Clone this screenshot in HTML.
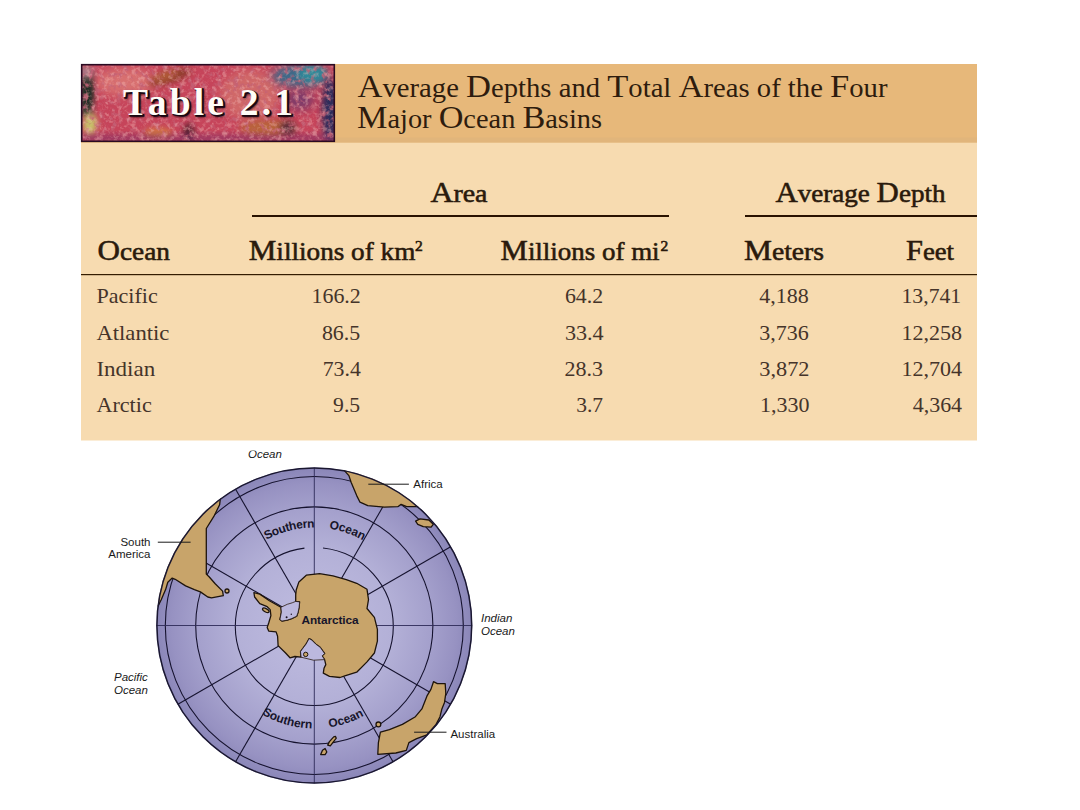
<!DOCTYPE html>
<html><head><meta charset="utf-8">
<style>
html,body{margin:0;padding:0;background:#fff;width:1080px;height:810px;overflow:hidden}
svg{display:block}
.sf{font-family:"Liberation Serif",serif}
.ss{font-family:"Liberation Sans",sans-serif}
</style></head><body>
<svg width="1080" height="810" viewBox="0 0 1080 810">
<defs>
<radialGradient id="coralA" cx="0.5" cy="0.5" r="0.7">
<stop offset="0" stop-color="#c85a6e"/><stop offset="1" stop-color="#a83f5c"/>
</radialGradient>
</defs>
<!-- table body -->
<rect x="81" y="142" width="896" height="298.5" fill="#f7dbb0"/>
<!-- header bar -->
<rect x="81" y="64" width="896" height="78.6" fill="#e7b87a"/>
<rect x="81" y="137.6" width="896" height="5" fill="#dcb27c" opacity="0.55"/>
<!-- coral image -->
<g id="coral">
<defs>
<clipPath id="cclip"><rect x="81" y="64" width="254" height="78"/></clipPath>
<filter id="blur3" x="-50%" y="-50%" width="200%" height="200%"><feGaussianBlur stdDeviation="3"/></filter>
<filter id="blur5" x="-50%" y="-50%" width="200%" height="200%"><feGaussianBlur stdDeviation="5"/></filter>
<filter id="speck" x="0" y="0" width="100%" height="100%">
<feTurbulence type="fractalNoise" baseFrequency="0.22" numOctaves="3" seed="7" result="n"/>
<feColorMatrix in="n" type="matrix" values="0 0 0 0 0.92  0 0 0 0 0.52  0 0 0 0 0.5  4 0 0 0 -1.95" />
</filter>
<filter id="speckD" x="0" y="0" width="100%" height="100%">
<feTurbulence type="fractalNoise" baseFrequency="0.18" numOctaves="3" seed="3" result="n"/>
<feColorMatrix in="n" type="matrix" values="0 0 0 0 0.55  0 0 0 0 0.12  0 0 0 0 0.18  4 0 0 0 -2.0" />
</filter>
</defs>
<g clip-path="url(#cclip)">
<rect x="81" y="64" width="254" height="78" fill="#c6445a"/>
<ellipse cx="125" cy="82" rx="30" ry="14" fill="#d87070" filter="url(#blur5)"/>
<ellipse cx="250" cy="95" rx="30" ry="25" fill="#d06868" filter="url(#blur5)"/>
<ellipse cx="170" cy="77" rx="22" ry="6" fill="#8a3a2a" transform="rotate(-18 170 77)" filter="url(#blur3)"/>
<ellipse cx="165" cy="76" rx="14" ry="4" fill="#c06a3a" transform="rotate(-18 165 76)" filter="url(#blur3)" opacity="0.8"/>
<ellipse cx="268" cy="128" rx="28" ry="8" fill="#b8643a" filter="url(#blur3)"/>
<ellipse cx="288" cy="128" rx="8" ry="7" fill="#5a2a3a" filter="url(#blur3)"/>
<ellipse cx="158" cy="133" rx="14" ry="5" fill="#d47a40" filter="url(#blur3)"/>
<ellipse cx="189" cy="132" rx="5" ry="9" fill="#4a1a2a" filter="url(#blur3)"/>
<rect x="81" y="70" width="11" height="46" fill="#2a3a2e" filter="url(#blur3)"/>
<ellipse cx="88" cy="94" rx="5" ry="13" fill="#1c2a22" filter="url(#blur3)"/>
<ellipse cx="90" cy="124" rx="7" ry="11" fill="#c8c46a" filter="url(#blur3)"/>
<ellipse cx="86" cy="72" rx="8" ry="6" fill="#b47a8a" filter="url(#blur3)"/>
<ellipse cx="300" cy="76" rx="28" ry="11" fill="#3a6a8a" filter="url(#blur5)"/>
<ellipse cx="312" cy="74" rx="14" ry="8" fill="#2e8a9a" filter="url(#blur3)"/>
<ellipse cx="330" cy="110" rx="8" ry="32" fill="#2a2a5a" filter="url(#blur3)"/>
<ellipse cx="300" cy="100" rx="14" ry="10" fill="#7a3a6a" filter="url(#blur5)"/>
<rect x="81" y="135" width="254" height="7" fill="#6a2a6a" opacity="0.55" filter="url(#blur3)"/>
<rect x="81" y="64" width="254" height="78" filter="url(#speckD)" opacity="0.85"/>
<rect x="81" y="64" width="254" height="78" filter="url(#speck)" opacity="0.38"/>
</g>
<rect x="81.7" y="64.7" width="252.6" height="76.6" fill="none" stroke="#2a0a22" stroke-width="1.6"/>
</g>
<defs><filter id="tshadow" x="-10%" y="-30%" width="120%" height="160%"><feGaussianBlur stdDeviation="1.2"/></filter></defs>
<text class="sf" x="125" y="116.5" font-size="37.5" font-weight="bold" fill="#1a0610" textLength="170" filter="url(#tshadow)">Table 2.1</text>
<text class="sf" x="124.2" y="115.6" font-size="37.5" font-weight="bold" fill="#1a0610" textLength="170" stroke="#1a0610" stroke-width="1.3">Table 2.1</text>
<text class="sf" x="123" y="114.5" font-size="37.5" font-weight="bold" fill="#fffdf8" textLength="170">Table 2.1</text>

<!-- title -->
<g class="sf" fill="#2e1c0e">
<text x="357.5" y="96.6" textLength="530" lengthAdjust="spacingAndGlyphs"><tspan font-size="32">A</tspan><tspan font-size="26.5">verage </tspan><tspan font-size="32">D</tspan><tspan font-size="26.5">epths and </tspan><tspan font-size="32">T</tspan><tspan font-size="26.5">otal </tspan><tspan font-size="32">A</tspan><tspan font-size="26.5">reas of the </tspan><tspan font-size="32">F</tspan><tspan font-size="26.5">our</tspan></text>
<text x="357" y="128.3" textLength="245" lengthAdjust="spacingAndGlyphs"><tspan font-size="32">M</tspan><tspan font-size="26.5">ajor </tspan><tspan font-size="32">O</tspan><tspan font-size="26.5">cean </tspan><tspan font-size="32">B</tspan><tspan font-size="26.5">asins</tspan></text>
</g>
<g class="sf" fill="#2a1a0c" stroke="#2a1a0c" stroke-width="0.55">
<text x="430.5" y="201.5" textLength="57" lengthAdjust="spacingAndGlyphs"><tspan font-size="28.5">A</tspan><tspan font-size="25">rea</tspan></text>
<text x="775.5" y="201.6" textLength="170" lengthAdjust="spacingAndGlyphs"><tspan font-size="28.5">A</tspan><tspan font-size="25">verage </tspan><tspan font-size="28.5">D</tspan><tspan font-size="25">epth</tspan></text>
<text x="97.5" y="259.5" textLength="72.5" lengthAdjust="spacingAndGlyphs"><tspan font-size="28.5">O</tspan><tspan font-size="25">cean</tspan></text>
<text x="248.8" y="259.6" textLength="166.5" lengthAdjust="spacingAndGlyphs"><tspan font-size="28.5">M</tspan><tspan font-size="25">illions of km</tspan></text>
<text x="500.6" y="259.6" textLength="159" lengthAdjust="spacingAndGlyphs"><tspan font-size="28.5">M</tspan><tspan font-size="25">illions of mi</tspan></text>
<text x="744" y="259.8" textLength="80" lengthAdjust="spacingAndGlyphs"><tspan font-size="28.5">M</tspan><tspan font-size="25">eters</tspan></text>
<text x="906" y="259.8" textLength="48" lengthAdjust="spacingAndGlyphs"><tspan font-size="28.5">F</tspan><tspan font-size="25">eet</tspan></text>
</g>
<g class="sf" fill="#2a1a0c" font-size="15.5" stroke="#2a1a0c" stroke-width="0.6">
<text x="415" y="251.3">2</text>
<text x="660.5" y="251.3">2</text>
</g>
<rect x="252" y="215" width="417" height="2" fill="#2a1200"/>
<rect x="745" y="215" width="232" height="2" fill="#2a1200"/>
<rect x="81" y="274" width="896" height="1.2" fill="#341c00"/>
<g class="sf" fill="#45342a" font-size="21">
<text x="96.4" y="303.4" textLength="61.3" lengthAdjust="spacingAndGlyphs">Pacific</text>
<text x="96.4" y="340.3" textLength="73.0" lengthAdjust="spacingAndGlyphs">Atlantic</text>
<text x="96.4" y="376.0" textLength="58.9" lengthAdjust="spacingAndGlyphs">Indian</text>
<text x="96.4" y="412.2" textLength="55.4" lengthAdjust="spacingAndGlyphs">Arctic</text>
<text x="311.5" y="303.4" textLength="49.3" lengthAdjust="spacingAndGlyphs">166.2</text>
<text x="321.9" y="340.3" textLength="38.3" lengthAdjust="spacingAndGlyphs">86.5</text>
<text x="322.7" y="376.0" textLength="38.1" lengthAdjust="spacingAndGlyphs">73.4</text>
<text x="333.1" y="412.2" textLength="27.1" lengthAdjust="spacingAndGlyphs">9.5</text>
<text x="564.9" y="303.4" textLength="38.2" lengthAdjust="spacingAndGlyphs">64.2</text>
<text x="564.9" y="340.3" textLength="38.8" lengthAdjust="spacingAndGlyphs">33.4</text>
<text x="564.6" y="376.0" textLength="38.5" lengthAdjust="spacingAndGlyphs">28.3</text>
<text x="576.2" y="412.2" textLength="26.9" lengthAdjust="spacingAndGlyphs">3.7</text>
<text x="759.3" y="303.4" textLength="49.5" lengthAdjust="spacingAndGlyphs">4,188</text>
<text x="759.3" y="340.3" textLength="49.5" lengthAdjust="spacingAndGlyphs">3,736</text>
<text x="759.3" y="376.0" textLength="50.2" lengthAdjust="spacingAndGlyphs">3,872</text>
<text x="760.1" y="412.2" textLength="49.4" lengthAdjust="spacingAndGlyphs">1,330</text>
<text x="901.5" y="303.4" textLength="59.7" lengthAdjust="spacingAndGlyphs">13,741</text>
<text x="901.5" y="340.3" textLength="60.6" lengthAdjust="spacingAndGlyphs">12,258</text>
<text x="901.5" y="376.0" textLength="60.6" lengthAdjust="spacingAndGlyphs">12,704</text>
<text x="912.7" y="412.2" textLength="49.4" lengthAdjust="spacingAndGlyphs">4,364</text>
</g>

<!-- MAP -->
<g id="map">
<defs>
<radialGradient id="globeG" cx="314.3" cy="625.5" r="158" gradientUnits="userSpaceOnUse">
<stop offset="0" stop-color="#c0bde1"/><stop offset="0.5" stop-color="#b3b0d7"/><stop offset="0.74" stop-color="#a4a0cc"/><stop offset="0.9" stop-color="#9792c2"/><stop offset="1" stop-color="#8a86b8"/>
</radialGradient>
<clipPath id="oclip"><rect x="200" y="450.6" width="120" height="20"/></clipPath>
<clipPath id="gclip"><circle cx="314.3" cy="625.5" r="158"/></clipPath>
</defs>
<circle cx="314.3" cy="625.5" r="158" fill="url(#globeG)"/>
<g clip-path="url(#gclip)">
<g fill="none">
<g stroke="#15122e" stroke-width="1.1">
<circle cx="314.3" cy="625.5" r="149"/>
<circle cx="314.3" cy="625.5" r="118.6"/>
<circle cx="314.3" cy="626.5" r="79" stroke-dasharray="361.70 18.80 116.38"/>
</g>
<path d="M314.3,625.5 L314.3,467.5" stroke="#2e2a58" stroke-width="0.9"/>
<path d="M314.3,625.5 L393.3,488.7" stroke="#15122e" stroke-width="1.1"/>
<path d="M314.3,625.5 L451.1,546.5" stroke="#15122e" stroke-width="1.1"/>
<path d="M314.3,625.5 L472.3,625.5" stroke="#2e2a58" stroke-width="0.9"/>
<path d="M314.3,625.5 L451.1,704.5" stroke="#15122e" stroke-width="1.1"/>
<path d="M314.3,625.5 L393.3,762.3" stroke="#15122e" stroke-width="1.1"/>
<path d="M314.3,625.5 L314.3,783.5" stroke="#2e2a58" stroke-width="0.9"/>
<path d="M314.3,625.5 L235.3,762.3" stroke="#15122e" stroke-width="1.1"/>
<path d="M314.3,625.5 L177.5,704.5" stroke="#15122e" stroke-width="1.1"/>
<path d="M314.3,625.5 L156.3,625.5" stroke="#2e2a58" stroke-width="0.9"/>
<path d="M314.3,625.5 L177.5,546.5" stroke="#15122e" stroke-width="1.1"/>
<path d="M314.3,625.5 L235.3,488.7" stroke="#15122e" stroke-width="1.1"/>
</g>
<g fill="#c8a46a" stroke="#1e140c" stroke-width="1.3" stroke-linejoin="round">
<path d="M220.4,498.1 L219.6,504.8 L213.7,516.7 L206.3,528.5 L206.3,534.4 L206.3,560.0 L206.3,574.1 L209.3,577.0 L215.2,583.7 L222.6,591.1 L223.3,595.6 L211.5,597.8 L207.8,597.0 L200.4,591.9 L194.4,589.6 L185.6,585.9 L175.2,579.3 L172.2,578.1 L167.8,582.2 L165.6,589.6 L161.1,600.0 L158.1,605.9 L150.0,606.0 L140.0,560.0 L160.0,500.0 L200.0,480.0 Z"/>
<path d="M343.3,469.4 L348.9,475.6 L351.1,482.2 L356.7,495.6 L360.0,502.2 L367.8,505.6 L384.4,507.2 L397.8,506.7 L401.1,504.4 L406.7,506.7 L417.8,506.7 L430.0,500.0 L400.0,450.0 L340.0,455.0 Z"/>
<path d="M415.6,521.1 L420.0,518.9 L428.9,520.0 L433.3,524.4 L431.1,527.2 L423.3,526.7 L417.8,524.4 Z"/>
<path d="M298.9,581.9 L306.3,575.2 L319.6,573.7 L333.0,575.9 L346.3,579.6 L356.7,583.3 L367.0,589.3 L368.5,599.6 L367.0,608.5 L374.4,617.4 L377.4,629.3 L377.4,641.1 L374.4,653.0 L367.0,661.9 L356.7,672.2 L344.8,675.9 L340.0,677.5 L329.5,676.3 L323.3,673.2 L324.0,668.3 L325.8,664.6 L324.6,659.6 L322.1,655.9 L324.6,653.5 L320.2,647.3 L315.9,644.2 L311.6,639.9 L309.1,638.6 L306.0,644.2 L302.3,649.1 L300.5,651.6 L301.1,657.2 L294.9,656.5 L290.0,657.8 L285.6,653.0 L278.1,645.6 L277.6,636.3 L276.1,631.9 L268.7,631.1 L267.2,627.4 L268.7,623.0 L270.9,615.6 L270.2,609.6 L267.2,606.7 L259.8,603.7 L254.6,597.0 L253.9,592.6 L259.8,594.1 L269.4,600.7 L280.9,607.3 L281.4,612.2 L279.9,619.6 L281.9,621.1 L287.3,620.1 L291.7,618.6 L296.7,616.2 L298.1,612.2 L299.1,607.3 L299.6,601.9 L295.7,601.4 L295.7,594.9 L296.2,590.0 Z"/>
<path d="M433.5,681.7 L437.4,683.6 L445.2,683.6 L445.8,693.3 L444.5,702.4 L441.9,708.9 L440.0,716.7 L436.1,724.4 L427.0,734.8 L416.7,738.7 L408.9,742.6 L406.3,750.4 L395.9,753.0 L377.8,754.3 L378.4,742.6 L380.4,732.2 L389.4,729.6 L402.4,724.4 L415.4,716.7 L421.9,708.9 L427.0,695.9 L430.9,689.4 Z"/>
<path d="M335.4,736.4 L336.3,738.2 L330.3,745.9 L327.7,745.1 L329.4,741.6 L333.7,736.9 Z"/>
<path d="M325.1,748.5 L326.8,752.0 L325.1,754.6 L320.7,754.6 L322.5,750.3 Z"/>
<ellipse cx="265.8" cy="610.3" rx="3.6" ry="1.6" transform="rotate(28 265.8 610.3)"/>
<circle cx="227" cy="591" r="2"/>
<circle cx="378.4" cy="724.4" r="2.4"/>
</g>
<g fill="#bcb8de" stroke="#2a1a10" stroke-width="0.8">
<path d="M280.9,607.3 L287.3,604.3 L292.2,602.8 L295.7,601.4 L299.6,601.9 L299.1,607.3 L298.1,612.2 L296.7,616.2 L291.7,618.6 L287.3,620.1 L281.9,621.1 L279.9,619.6 L281.4,612.2 Z"/>
<path d="M301.1,657.2 L300.5,651.6 L302.3,649.1 L306.0,644.2 L309.1,638.6 L311.6,639.9 L315.9,644.2 L320.2,647.3 L324.6,653.5 L322.1,655.9 L324.6,659.6 L313.5,660.2 Z"/>
</g>
<circle cx="286.6" cy="617.3" r="1" fill="#1a1020"/><circle cx="291.3" cy="614.2" r="0.7" fill="#1a1020"/><circle cx="305.7" cy="654.4" r="2.2" fill="#c8a46a" stroke="#1e140c" stroke-width="1"/>
</g>
<circle cx="314.3" cy="625.5" r="157.4" fill="none" stroke="#1a1730" stroke-width="1.5"/>
<path id="topArc" d="M265.3,540.6 A98,98 0 0 1 366.2,542.4" fill="none"/>
<path id="botArc" d="M259.7,712.8 A103,103 0 0 0 368.9,712.8" fill="none"/>
<g class="ss" font-size="12" font-weight="bold" fill="#17152a">
<text><textPath href="#topArc" startOffset="1.5" textLength="50">Southern</textPath></text>
<text><textPath href="#topArc" startOffset="66" textLength="36">Ocean</textPath></text>
<text><textPath href="#botArc" startOffset="2.5">Southern</textPath></text>
<text><textPath href="#botArc" startOffset="72.5">Ocean</textPath></text>
<text x="301.5" y="624.3" font-size="11.8" textLength="57">Antarctica</text>
</g>
<g class="ss" font-size="11.5" fill="#1a1a1a">
<text x="150.5" y="545.6" text-anchor="end">South</text>
<text x="150.5" y="558.3" text-anchor="end">America</text>
<text x="413.3" y="487.8">Africa</text>
<text x="450.4" y="737.7">Australia</text>
</g>
<g class="ss" font-size="11.5" font-style="italic" fill="#1a1a1a">
<text x="248" y="458.1" clip-path="url(#oclip)">Ocean</text>
<text x="481" y="621.9">Indian</text>
<text x="481" y="634.7">Ocean</text>
<text x="114" y="680.7">Pacific</text>
<text x="114" y="694.4">Ocean</text>
</g>
<g stroke="#1a1a1a" stroke-width="1">
<path d="M157.8,542.2 H190.6"/>
<path d="M368.3,484.2 H408.9"/>
<path d="M414.1,732.2 H446.5"/>
</g>
</g>
</svg>
</body></html>
